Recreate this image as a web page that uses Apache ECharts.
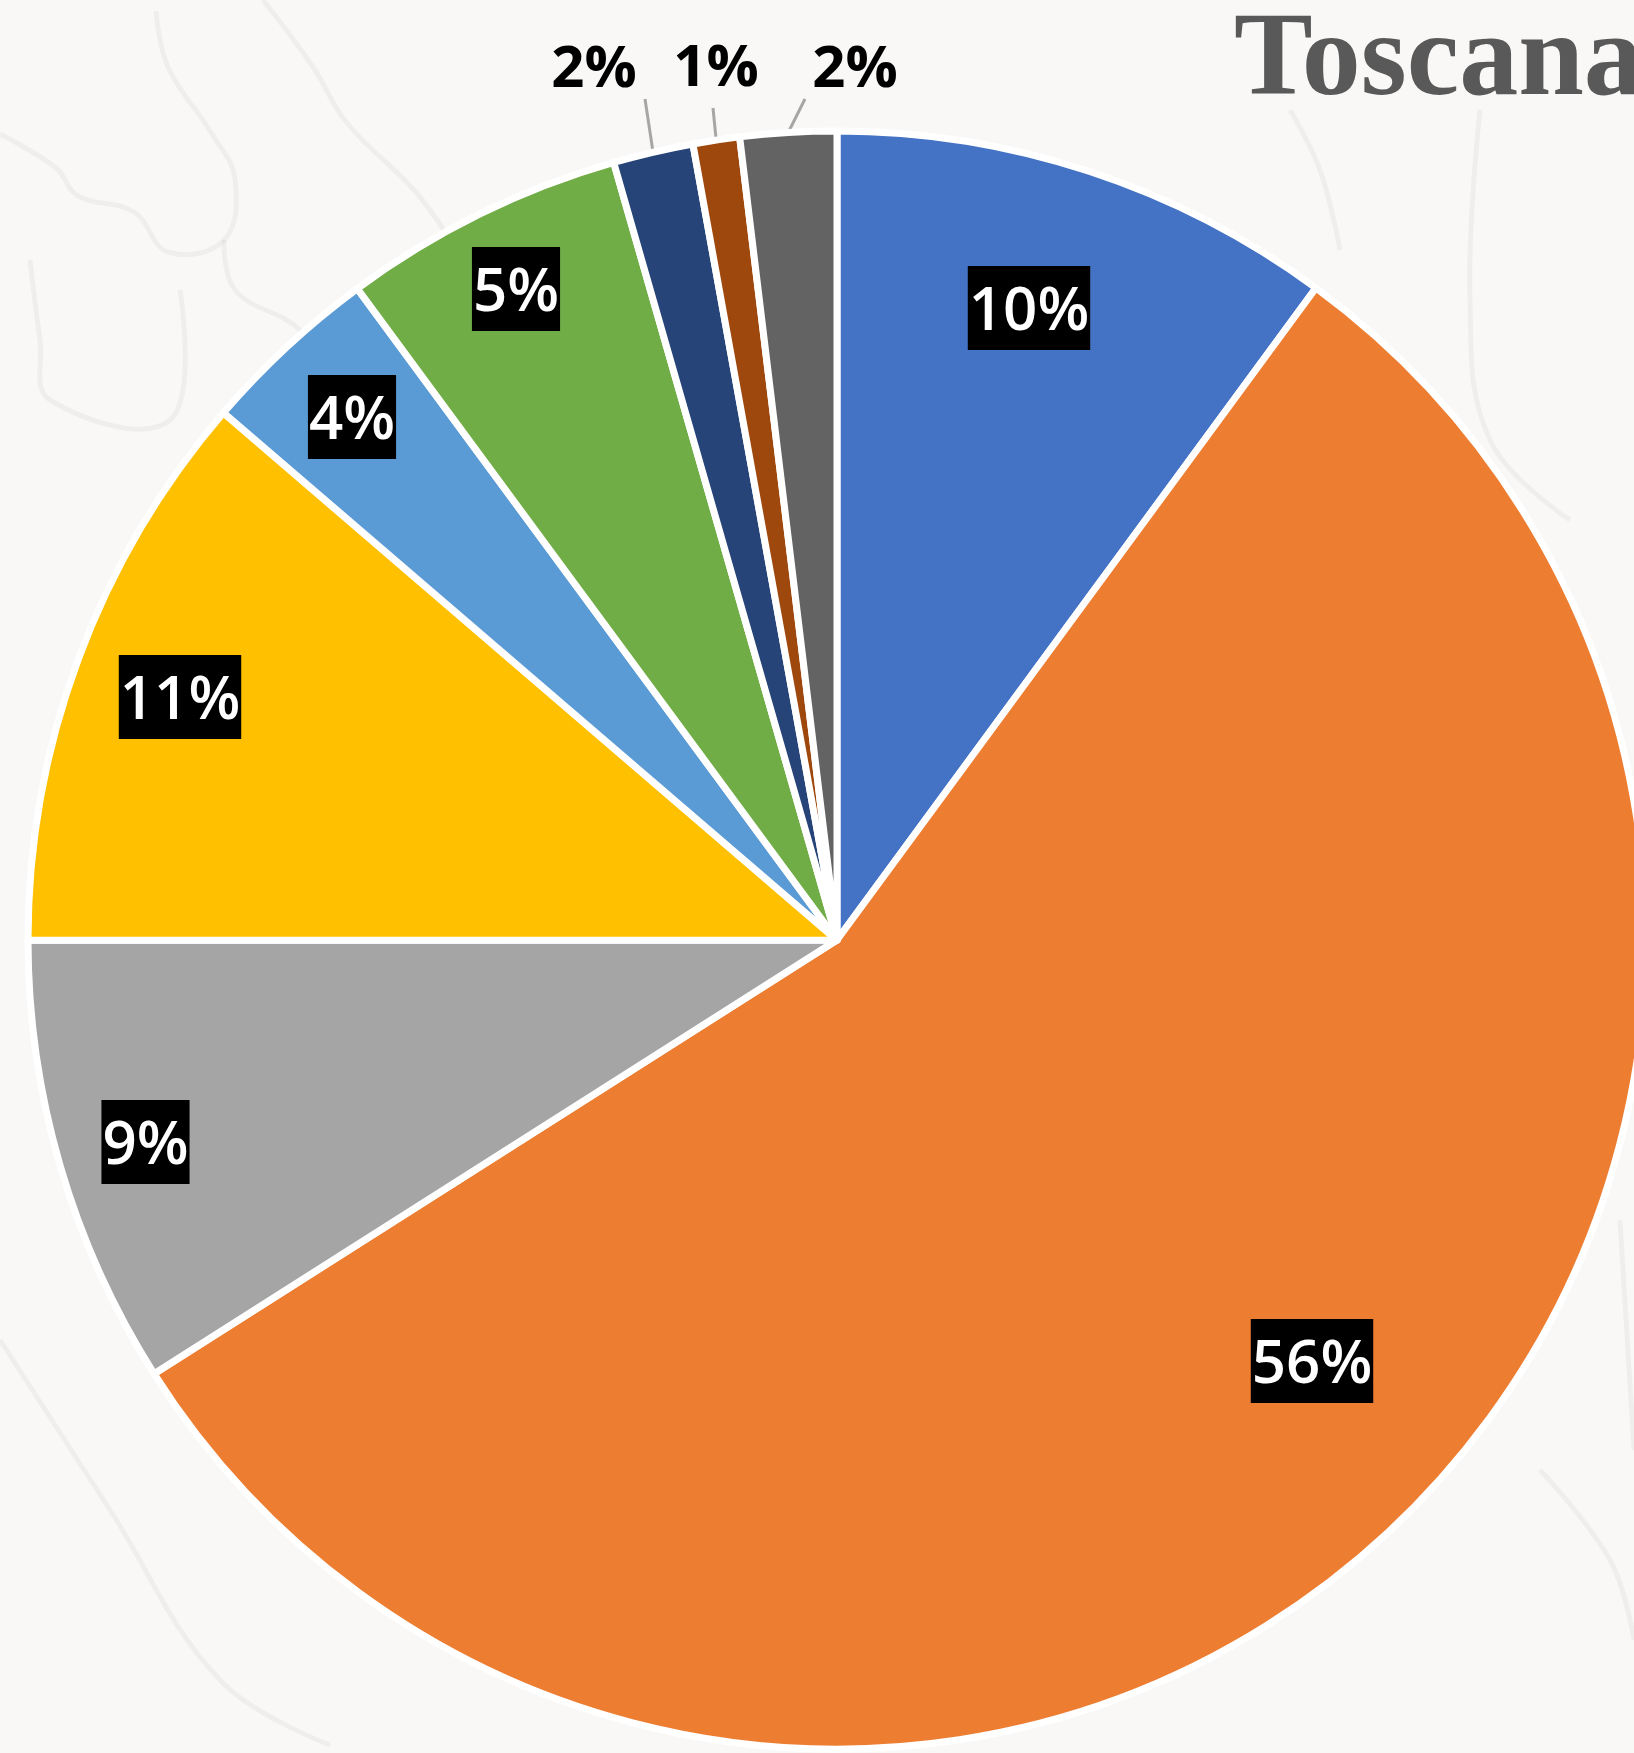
<!DOCTYPE html>
<html>
<head>
<meta charset="utf-8">
<script src="https://cdn.jsdelivr.net/npm/echarts@6/dist/echarts.min.js"></script>
<style>
html,body{margin:0;padding:0;background:#f9f8f6;overflow:hidden}
#main{width:1634px;height:1753px}
</style>
</head>
<body>
<div id="main"></div>
<script>
// slices run clockwise from 12 o'clock
var categories = ['A', 'B', 'C', 'D', 'E', 'F', 'G', 'H', 'I'];
var values = [10.08, 55.9, 9.0, 11.3, 3.6, 5.65, 1.6, 0.93, 1.92];
var percentLabels = ['10%', '56%', '9%', '11%', '4%', '5%', '2%', '1%', '2%'];
var colors = ['#4472C4', '#ED7D31', '#A5A5A5', '#FFC000', '#5B9BD5', '#70AD47', '#264478', '#9E480E', '#636363'];
// label anchor in px, the last three sit outside with a leader line
var labelX = [1029, 1312, 145.5, 180, 352, 516, 645, 713, 805];
var labelY = [308, 1361, 1142, 697, 417, 289, 84, 108, 84];
var outerPadding = {6: [0, 102, 0, 0], 7: [0, 0, 25, 6], 8: [0, 0, 0, 100]};

// faint traces of the old map behind the chart
var mapStrokes = [
    [[156, 11], [168, 67], [212, 134], [235, 179], [224, 240], [168, 252], [134, 212], [78, 196], [56, 168], [0, 134]],
    [[263, 0], [313, 67], [347, 123], [414, 190], [447, 235]],
    [[224, 240], [235, 290], [300, 330], [340, 390]],
    [[30, 260], [40, 340], [50, 400], [170, 420], [180, 290]],
    [[1290, 110], [1320, 170], [1340, 250]],
    [[1480, 110], [1470, 300], [1490, 440], [1570, 520]],
    [[0, 1340], [110, 1510], [220, 1680], [330, 1745]],
    [[1540, 1470], [1610, 1560], [1634, 1640]],
    [[1620, 1220], [1634, 1450]]
];

var chart = echarts.init(document.getElementById('main'));

var pieData = categories.map(function (name, i) {
    var item = {name: name, value: values[i], itemStyle: {color: colors[i]}};
    if (outerPadding[i]) {
        item.label = {
            color: '#000',
            fontWeight: 700,
            fontSize: 58,
            backgroundColor: 'transparent',
            lineHeight: 28,
            padding: outerPadding[i]
        };
        item.labelLine = {show: true};
    }
    return item;
});

chart.setOption({
    backgroundColor: '#f9f8f6',
    animation: false,
    title: {
        text: 'Toscana',
        left: 1229,
        top: 0,
        textStyle: {
            fontFamily: 'Liberation Serif',
            fontWeight: 'bold',
            fontSize: 118,
            color: '#595959'
        }
    },
    graphic: mapStrokes.map(function (pts) {
        return {
            type: 'polyline',
            silent: true,
            z: -1,
            shape: {points: pts, smooth: 0.4},
            style: {
                fill: null,
                stroke: 'rgba(0,0,0,0.04)',
                lineWidth: 5,
                shadowBlur: 6,
                shadowColor: 'rgba(0,0,0,0.05)'
            }
        };
    }),
    series: [{
        type: 'pie',
        center: [837, 940],
        radius: [0, 809],
        startAngle: 90,
        clockwise: true,
        minAngle: 0,
        avoidLabelOverlap: false,
        data: pieData,
        itemStyle: {borderColor: '#fff', borderWidth: 7},
        label: {
            show: true,
            position: 'outside',
            formatter: function (p) {
                var txt = percentLabels[p.dataIndex];
                return outerPadding[p.dataIndex] ? txt : '{t|' + txt + '}';
            },
            fontFamily: 'Open Sans',
            fontWeight: 600,
            fontSize: 60,
            color: '#fff',
            backgroundColor: '#000',
            rich: {
                t: {
                    fontFamily: 'Open Sans',
                    fontWeight: 600,
                    fontSize: 60,
                    color: '#fff',
                    lineHeight: 84,
                    padding: [10, 1, 0, 1]
                }
            }
        },
        labelLine: {
            show: false,
            length: 1,
            length2: 0,
            lineStyle: {color: '#a6a6a6', width: 3}
        },
        labelLayout: function (p) {
            var i = p.dataIndex;
            return {
                x: labelX[i],
                y: labelY[i],
                align: 'center',
                verticalAlign: outerPadding[i] ? 'bottom' : 'middle'
            };
        }
    }]
});
</script>
</body>
</html>
